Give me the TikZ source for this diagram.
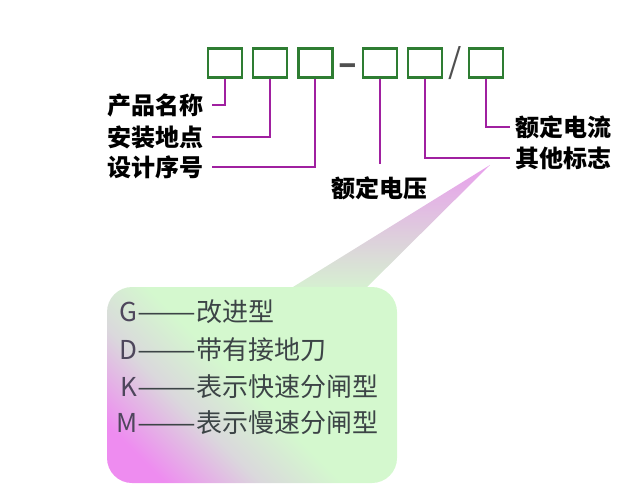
\documentclass[tikz,border=0pt]{standalone}
\usepackage{fontspec}
\newfontfamily\cjk{Noto Sans CJK SC}
\usepackage{xcolor}
\usepackage{tikz}
\usetikzlibrary{positioning, calc}

\definecolor{boxgreen}{RGB}{46,125,50}
\definecolor{wirepurple}{RGB}{160,32,160}
\definecolor{calpink}{RGB}{238,140,240}
\definecolor{calgrey}{RGB}{218,216,220}
\definecolor{calgreen}{RGB}{212,248,206}
\definecolor{tippink}{RGB}{232,160,236}
\definecolor{rowtext}{RGB}{60,68,70}
\definecolor{rowletter}{RGB}{78,70,92}
\definecolor{signgrey}{RGB}{80,80,80}
\pgfdeclarehorizontalshading{calloutfill}{100bp}{color(0bp)=(calpink); color(23bp)=(calpink); color(37bp)=(calgrey); color(49bp)=(calgreen); color(100bp)=(calgreen)}

\begin{document}
\begin{tikzpicture}[x=1pt, y=-1pt,
	code box/.style={draw=boxgreen, line width=2.2pt, minimum width=34pt, minimum height=29pt, inner sep=0pt},
	wire/.style={draw=wirepurple, line width=2pt},
	tag/.style={font=\cjk\bfseries\fontsize{24}{24}\selectfont, inner xsep=8pt, inner ysep=3pt},
	sign/.style={text=signgrey, inner sep=0pt, font=\cjk\fontsize{34}{34}\selectfont},
	row/.style={anchor=west, text=rowtext, inner sep=0pt, font=\cjk\fontsize{26}{26}\selectfont}]
		
		\useasboundingbox (0,0) rectangle (640,488);
		
		% Callout
		\path[top color=tippink, middle color=calgrey, bottom color=calgreen] (272,300) -- (490,165) -- (354,300) -- cycle;
		\path[shading=calloutfill, shading angle=45, rounded corners=25pt] (107,287) rectangle (397,483);
		
		% Code boxes
		\node[code box] (b1) at (225,63) {};
		\node[code box] (b2) [right=9pt of b1] {};
		\node[code box] (b3) [right=9pt of b2] {};
		\node[code box] (b4) [right=28pt of b3] {};
		\node[code box] (b5) [right=9pt of b4] {};
		\node[code box] (b6) [right=25pt of b5] {};
		\node[sign, yshift=-7pt, font=\cjk\bfseries\fontsize{34}{34}\selectfont] (dash) at ($(b3.east)!0.5!(b4.west)$) {–};
		\node[sign] (slash) at ($(b5.east)!0.5!(b6.west)$) {/};
		
		% Labels
		\node[tag, anchor=east] (pname) at (212,105) {产品名称};
		\node[tag, anchor=east] (site) at (212,137) {安装地点};
		\node[tag, anchor=east] (serial) at (212,167) {设计序号};
		\node[tag, below=95pt of b4] (volt) {额定电压};
		\node[tag, anchor=west, inner xsep=5pt] (curr) at (510,127) {额定电流};
		\node[tag, anchor=west, inner xsep=5pt] (other) at (510,158) {其他标志};
		
		% Wires
		\draw[wire] (b1.south) |- (pname.east);
		\draw[wire] (b2.south) |- (site.east);
		\draw[wire] (b3.south) |- (serial.east);
		\draw[wire, shorten >=10pt] (b4.south) -- (volt.north);
		\draw[wire] (b5.south) |- (other.west);
		\draw[wire] (b6.south) |- (curr.west);
		
		% Callout rows
		\node[row] (rg) at (112,312) {\makebox[25pt][r]{\color{rowletter}G}\scalebox{1.35}[1]{——}改进型};
		\node[row] (rd) at (112,350) {\makebox[25pt][r]{\color{rowletter}D}\scalebox{1.35}[1]{——}带有接地刀};
		\node[row] (rk) at (112,387) {\makebox[25pt][r]{\color{rowletter}K}\scalebox{1.35}[1]{——}表示快速分闸型};
		\node[row] (rm) at (112,423) {\makebox[25pt][r]{\color{rowletter}M}\scalebox{1.35}[1]{——}表示慢速分闸型};
	\end{tikzpicture}
\end{document}
